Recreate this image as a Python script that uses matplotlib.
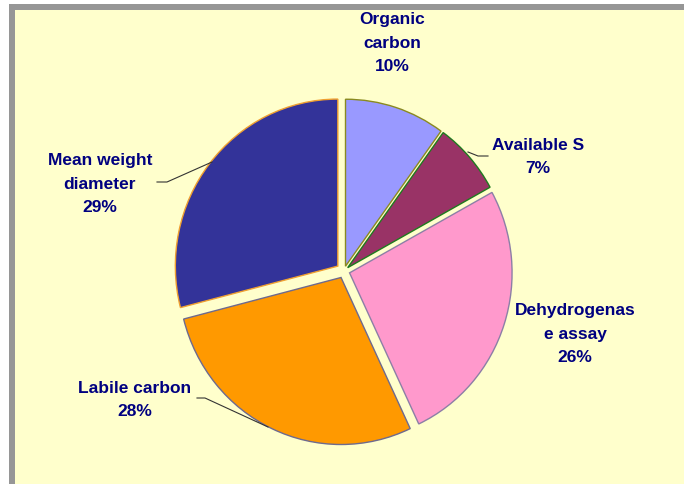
import matplotlib
matplotlib.use("Agg")
import matplotlib.pyplot as plt
from matplotlib.patches import Rectangle

# Data
categories = ["Organic\ncarbon", "Available S", "Dehydrogenas\ne assay", "Labile carbon", "Mean weight\ndiameter"]
values = [10, 7, 26, 28, 29]
fill_colors = ["#9999FF", "#993366", "#FF99CC", "#FF9900", "#333399"]
edge_colors = ["#8A8A20", "#1E7A1E", "#8C7FA6", "#6E6A8E", "#F0A030"]
explode = [0.03, 0.03, 0.036, 0.043, 0.048]

W, H = 684, 484
DPI = 100
CX, CY = 344, 271          # pie centre in pixel coordinates (y downwards)
RX, RY = 162.5, 167.0      # horizontal / vertical radius in pixels

fig = plt.figure(figsize=(W / DPI, H / DPI), dpi=DPI, facecolor="white")

# frame: grey band on top and left, pale yellow chart area
fig.patches.append(Rectangle((9 / W, 0), (W - 9) / W, (H - 4) / H,
                             transform=fig.transFigure, facecolor="#969696",
                             edgecolor="none", zorder=-2))
fig.patches.append(Rectangle((15 / W, 0), (W - 15) / W, (H - 10) / H,
                             transform=fig.transFigure, facecolor="#FFFFCC",
                             edgecolor="none", zorder=-1))

ax = fig.add_axes([0, 0, 1, 1])
ax.set_facecolor("none")


def px(x, y):
    """pixel position -> data coordinates (pie radius = 1)"""
    return (x - CX) / RX, (CY - y) / RY


wedges, _ = ax.pie(values, colors=fill_colors, startangle=90, counterclock=False,
                   explode=explode, radius=1.0, center=(0, 0),
                   wedgeprops=dict(linewidth=1.0))
for w, ec in zip(wedges, edge_colors):
    w.set_edgecolor(ec)

ax.set_aspect("auto")
ax.set_xlim(px(0, 0)[0], px(W, 0)[0])
ax.set_ylim(px(0, H)[1], px(0, 0)[1])
ax.axis("off")

# labels
label_pos = [(392, 43), (538, 157), (575, 334), (135, 400), (100, 184)]
for name, val, (lx, ly) in zip(categories, values, label_pos):
    x, y = px(lx, ly)
    ax.text(x, y, f"{name}\n{val}%", ha="center", va="center", multialignment="center",
            color="#000080", fontsize=12.5, fontweight="bold",
            family="Liberation Sans", linespacing=1.68)

# leader lines
leaders = [
    [(468, 152), (478, 156), (488, 156)],
    [(157, 182), (167, 182), (212, 162)],
    [(197, 398), (205, 398), (268, 427)],
]
for pts in leaders:
    xs, ys = zip(*[px(a, b) for a, b in pts])
    ax.plot(xs, ys, color="#333333", linewidth=0.8)

fig.savefig("out.png", dpi=DPI, facecolor=fig.get_facecolor())
